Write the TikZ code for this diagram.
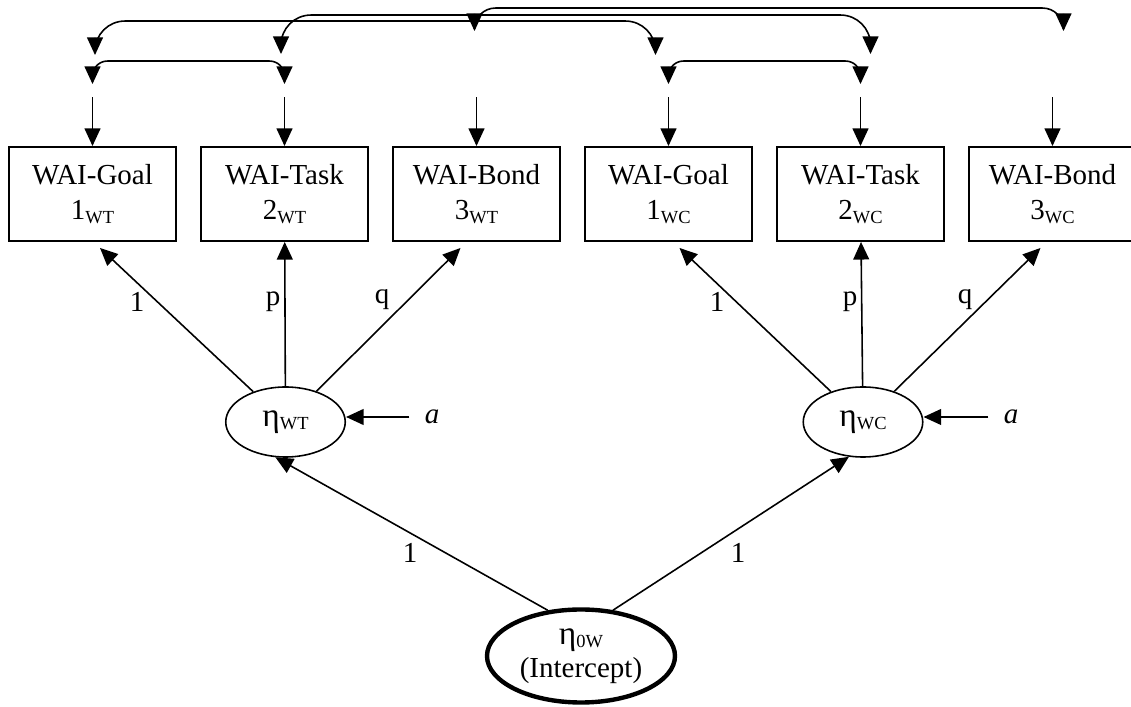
\documentclass[tikz,border=0pt]{standalone}
\usepackage{fontspec}
\setmainfont{Liberation Serif}
\usetikzlibrary{
    arrows.meta,
    bending,
    shapes.geometric,
    positioning,
    calc
}

\newcommand{\lo}[1]{\raisebox{-2pt}{\fontsize{10.5}{11}\selectfont #1}}
\newcommand{\et}{{\fontsize{19}{20}\selectfont η}}

\tikzset{
    ind/.style={draw, line width=1.1pt, minimum width=3.34cm, minimum height=1.88cm, align=center, inner sep=0pt},
    lat/.style={draw, ellipse, line width=0.9pt, minimum width=2.39cm, minimum height=1.40cm, inner sep=0pt, align=center},
    reg/.style={-{Triangle[length=10pt,width=9pt]}, line width=0.9pt},
    cov/.style={{Triangle[length=10pt,width=9pt]}-{Triangle[length=10pt,width=9pt]}, line width=0.9pt},
    lbl/.style={inner sep=0pt}
}

\begin{document}
\begin{tikzpicture}[font=\fontsize{16.5}{20}\selectfont]
    \useasboundingbox (0, 0) rectangle (22.62, 14.14);
    % indicators
    \foreach \nm/\k/\s [count=\i] in {Goal/1/WT, Task/2/WT, Bond/3/WT, Goal/1/WC, Task/2/WC, Bond/3/WC} {
        \node[ind] (b\i) at ({1.85 + 3.84*(\i - 1)}, 10.26) {WAI-\nm\\\k\lo{\s}};
        \draw[reg] ([yshift=0.98cm]b\i.north) -- (b\i.north);
    }
    % latent factors
    \node[lat] (wt) at (5.71, 5.70) {\et\lo{WT}};
    \node[lat] (wc) at (17.26, 5.70) {\et\lo{WC}};
    \node[lat, line width=2.5pt, minimum width=3.76cm, minimum height=1.86cm] (icpt) at (11.62, 1.02) {\et\lo{0W}\\[-1pt](Intercept)};
    \node[lbl] (aT) at (8.64, 5.80) {\textit{a}};
    \node[lbl] (aC) at (20.22, 5.80) {\textit{a}};
    \draw[reg] ([xshift=-0.3cm]aT.west) -- (aT.west -| wt.east);
    \draw[reg] ([xshift=-0.3cm]aC.west) -- (aC.west -| wc.east);
    % loadings
    \draw[reg] (wt) -- ([shift={(0.15, -0.12)}]b1.south);
    \draw[reg] (wt) -- (b2);
    \draw[reg] (wt) -- ([shift={(-0.32, -0.12)}]b3.south);
    \draw[reg] (wc) -- ([shift={(0.22, -0.12)}]b4.south);
    \draw[reg] (wc) -- (b5);
    \draw[reg] (wc) -- ([shift={(-0.24, -0.12)}]b6.south);
    \node[lbl] (l1T) at (2.74, 8.10) {1};
    \node[lbl] (lpT) at (5.46, 8.10) {p};
    \node[lbl] (lqT) at (7.64, 8.14) {q};
    \node[lbl] (l1C) at (14.34, 8.10) {1};
    \node[lbl] (lpC) at (17.00, 8.10) {p};
    \node[lbl] (lqC) at (19.30, 8.14) {q};
    % intercept
    \draw[reg] (icpt.126) -- (wt.-106);
    \draw[reg] (icpt.55) -- (wc.-112);
    \node[lbl] (i1T) at (8.20, 3.08) {1};
    \node[lbl] (i1C) at (14.76, 3.08) {1};
    % residual covariances
    \draw[cov, rounded corners=0.3cm] ([yshift=1.24cm]b1.north) |- ([yshift=1.70cm]b2.north) -- ([yshift=1.24cm]b2.north);
    \draw[cov, rounded corners=0.3cm] ([yshift=1.24cm]b4.north) |- ([yshift=1.70cm]b5.north) -- ([yshift=1.24cm]b5.north);
    \draw[cov, rounded corners=0.6cm] ([shift={(0.05, 1.82)}]b1.north) |- ([shift={(-0.26, 2.50)}]b4.north) -- ([shift={(-0.26, 1.82)}]b4.north);
    \draw[cov, rounded corners=0.6cm] ([shift={(-0.07, 1.84)}]b2.north) |- ([shift={(0.20, 2.62)}]b5.north) -- ([shift={(0.20, 1.84)}]b5.north);
    \draw[cov, rounded corners=0.42cm] ([shift={(-0.04, 2.30)}]b3.north) |- ([shift={(0.22, 2.76)}]b6.north) -- ([shift={(0.22, 2.30)}]b6.north);
\end{tikzpicture}
\end{document}
